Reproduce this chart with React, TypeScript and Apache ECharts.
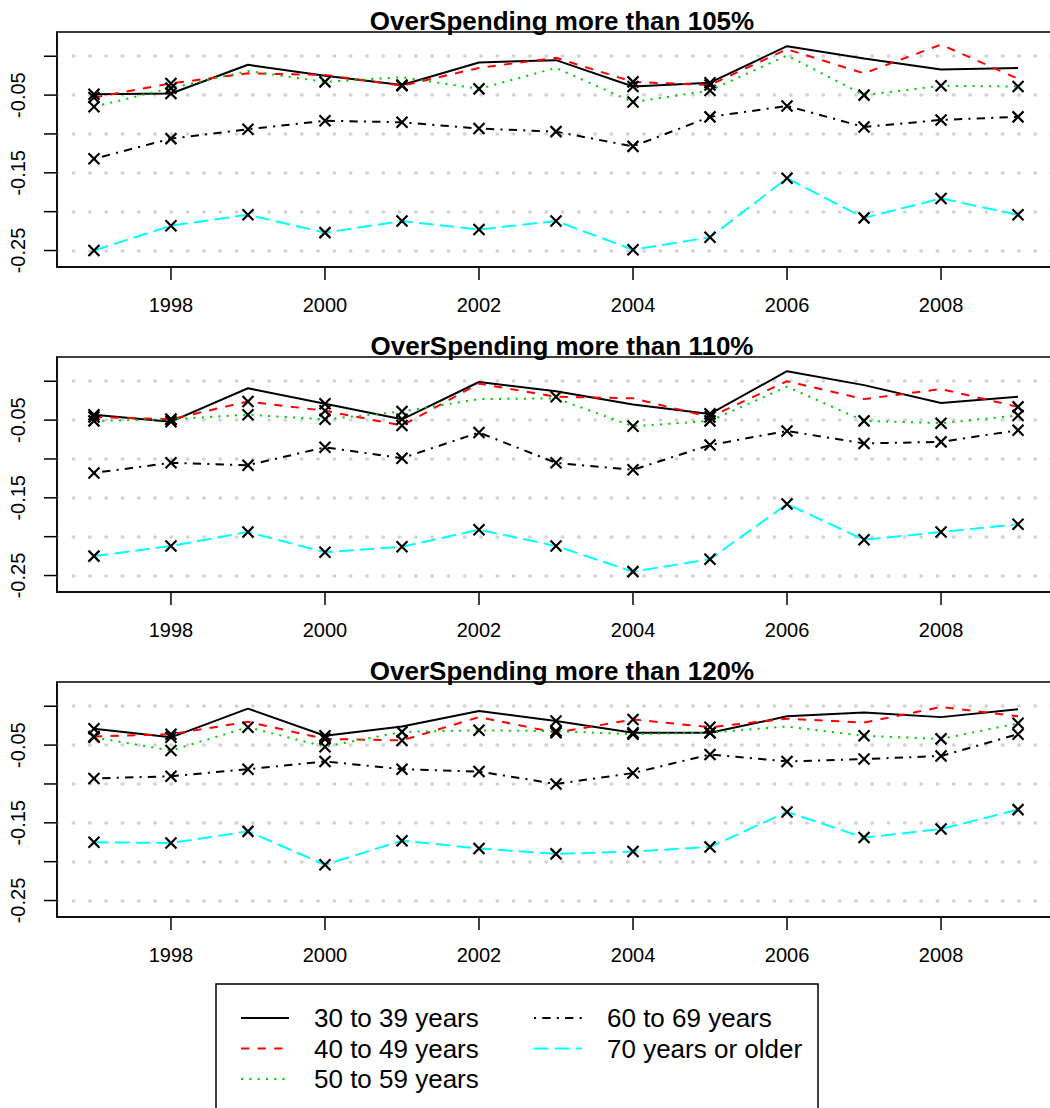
import React, { useEffect, useRef } from "react";
import * as echarts from "echarts";

// ---------- categories / labels ----------
const years = [1997, 1998, 1999, 2000, 2001, 2002, 2003, 2004, 2005, 2006, 2007, 2008, 2009];
const groupNames = ["30 to 39 years", "40 to 49 years", "50 to 59 years", "60 to 69 years", "70 years or older"];
const panelTitles = ["OverSpending more than 105%", "OverSpending more than 110%", "OverSpending more than 120%"];
const xTickYears = [1998, 2000, 2002, 2004, 2006, 2008];
const yTickValues = [0, -0.05, -0.1, -0.15, -0.2, -0.25];
const yLabelValues = [-0.05, -0.15, -0.25];

// ---------- OverSpending > 105% ----------
const over105_30 = [-0.049, -0.048, -0.011, -0.025, -0.037, -0.008, -0.005, -0.039, -0.034, 0.013, -0.003, -0.017, -0.015];
const over105_40 = [-0.053, -0.035, -0.022, -0.024, -0.038, -0.015, -0.002, -0.033, -0.037, 0.009, -0.022, 0.015, -0.029];
const over105_50 = [-0.065, -0.041, -0.019, -0.033, -0.027, -0.042, -0.015, -0.059, -0.044, 0.001, -0.050, -0.038, -0.039];
const over105_60 = [-0.132, -0.106, -0.094, -0.083, -0.085, -0.093, -0.097, -0.116, -0.078, -0.064, -0.091, -0.082, -0.078];
const over105_70 = [-0.250, -0.218, -0.204, -0.227, -0.212, -0.223, -0.212, -0.249, -0.233, -0.157, -0.208, -0.183, -0.204];
// cross markers (1 = marked)
const mark105_30 = [1, 1, 0, 0, 1, 0, 0, 1, 1, 0, 0, 0, 0];
const mark105_40 = [1, 1, 0, 0, 1, 0, 0, 1, 1, 0, 0, 0, 0];
const mark105_50 = [1, 1, 0, 1, 0, 1, 0, 1, 1, 0, 1, 1, 1];
const mark105_60 = [1, 1, 1, 1, 1, 1, 1, 1, 1, 1, 1, 1, 1];
const mark105_70 = [1, 1, 1, 1, 1, 1, 1, 1, 1, 1, 1, 1, 1];

// ---------- OverSpending > 110% ----------
const over110_30 = [-0.043, -0.052, -0.009, -0.029, -0.049, -0.001, -0.013, -0.030, -0.042, 0.013, -0.005, -0.028, -0.020];
const over110_40 = [-0.046, -0.049, -0.026, -0.038, -0.057, -0.003, -0.020, -0.022, -0.046, 0.000, -0.023, -0.010, -0.033];
const over110_50 = [-0.051, -0.049, -0.043, -0.049, -0.039, -0.023, -0.022, -0.058, -0.051, -0.007, -0.051, -0.054, -0.044];
const over110_60 = [-0.118, -0.105, -0.108, -0.085, -0.099, -0.066, -0.105, -0.114, -0.082, -0.064, -0.080, -0.078, -0.063];
const over110_70 = [-0.225, -0.212, -0.194, -0.220, -0.213, -0.191, -0.212, -0.245, -0.229, -0.158, -0.204, -0.194, -0.184];
const mark110_30 = [1, 1, 0, 1, 1, 0, 0, 0, 1, 0, 0, 0, 0];
const mark110_40 = [1, 1, 1, 1, 1, 0, 1, 0, 1, 0, 0, 0, 1];
const mark110_50 = [1, 1, 1, 1, 1, 0, 0, 1, 1, 0, 1, 1, 1];
const mark110_60 = [1, 1, 1, 1, 1, 1, 1, 1, 1, 1, 1, 1, 1];
const mark110_70 = [1, 1, 1, 1, 1, 1, 1, 1, 1, 1, 1, 1, 1];

// ---------- OverSpending > 120% ----------
const over120_30 = [-0.029, -0.040, -0.003, -0.038, -0.026, -0.006, -0.019, -0.034, -0.034, -0.013, -0.008, -0.014, -0.004];
const over120_40 = [-0.039, -0.036, -0.020, -0.042, -0.044, -0.014, -0.034, -0.017, -0.027, -0.016, -0.021, -0.001, -0.013];
const over120_50 = [-0.040, -0.057, -0.027, -0.052, -0.033, -0.031, -0.032, -0.036, -0.034, -0.026, -0.038, -0.042, -0.022];
const over120_60 = [-0.093, -0.090, -0.081, -0.071, -0.081, -0.084, -0.100, -0.086, -0.062, -0.071, -0.068, -0.064, -0.036];
const over120_70 = [-0.175, -0.176, -0.161, -0.204, -0.173, -0.183, -0.190, -0.187, -0.181, -0.136, -0.169, -0.158, -0.133];
const mark120_30 = [1, 1, 0, 1, 0, 0, 1, 1, 1, 0, 0, 0, 0];
const mark120_40 = [1, 1, 0, 1, 1, 0, 1, 1, 1, 0, 0, 0, 0];
const mark120_50 = [1, 1, 1, 1, 1, 1, 1, 1, 1, 0, 1, 1, 1];
const mark120_60 = [1, 1, 1, 1, 1, 1, 1, 1, 1, 1, 1, 1, 1];
const mark120_70 = [1, 1, 1, 1, 1, 1, 1, 1, 1, 1, 1, 1, 1];

const panelValues = [
  [over105_30, over105_40, over105_50, over105_60, over105_70],
  [over110_30, over110_40, over110_50, over110_60, over110_70],
  [over120_30, over120_40, over120_50, over120_60, over120_70],
];
const panelMarks = [
  [mark105_30, mark105_40, mark105_50, mark105_60, mark105_70],
  [mark110_30, mark110_40, mark110_50, mark110_60, mark110_70],
  [mark120_30, mark120_40, mark120_50, mark120_60, mark120_70],
];

// ---------- axis ranges (R style 4% padding) ----------
const X_MIN = 1996.52;
const X_MAX = 2009.48;
const Y_MIN = -0.2712;
const Y_MAX = 0.0312;

// ---------- layout / styles ----------
const FONT = "'Liberation Sans', Arial, Helvetica, sans-serif";
const groupColors = ["#000000", "#FF0000", "#00CD00", "#000000", "#00FFFF"];
const groupDash: any[] = ["solid", [8.3, 8.3], [2.1, 6.2], [2.1, 6.2, 8.3, 6.2], [14.6, 6.2]];
const GRID_LEFT = 57;
const GRID_W = 998;
const GRID_H = 235;
const gridTops = [32, 357, 682];
const titleYs = [21, 346, 671];
const CROSS = "path://M0,0L10,10M0,10L10,0";
const TICK_LEN = 13;

// linear mapping identical to the grid's value axes (used for tick marks only)
function xPix(v: number) {
  return GRID_LEFT + ((v - X_MIN) / (X_MAX - X_MIN)) * GRID_W;
}
function yPix(p: number, v: number) {
  return gridTops[p] + ((Y_MAX - v) / (Y_MAX - Y_MIN)) * GRID_H;
}

function buildGraphics() {
  const els: any[] = [
    {
      type: "rect",
      silent: true,
      shape: { x: 216, y: 984, width: 602, height: 130 },
      style: { fill: "none", stroke: "#000", lineWidth: 1.5 },
    },
  ];
  for (let p = 0; p < 3; p++) {
    const yb = gridTops[p] + GRID_H;
    for (const v of xTickYears) {
      const x = xPix(v);
      els.push({
        type: "line",
        silent: true,
        z: 100,
        shape: { x1: x, y1: yb, x2: x, y2: yb + TICK_LEN },
        style: { stroke: "#000", lineWidth: 1.5 },
      });
    }
    for (const v of yTickValues) {
      const y = yPix(p, v);
      els.push({
        type: "line",
        silent: true,
        z: 100,
        shape: { x1: GRID_LEFT - TICK_LEN, y1: y, x2: GRID_LEFT, y2: y },
        style: { stroke: "#000", lineWidth: 1.5 },
      });
    }
  }
  return els;
}

function buildOption() {
  const grids: any[] = [];
  const xAxes: any[] = [];
  const yAxes: any[] = [];
  const titles: any[] = [];
  const series: any[] = [];

  for (let p = 0; p < 3; p++) {
    grids.push({
      left: GRID_LEFT,
      top: gridTops[p],
      width: GRID_W,
      height: GRID_H,
      show: true,
      borderColor: "#000",
      borderWidth: 1.5,
      backgroundColor: "transparent",
      containLabel: false,
      outerBoundsMode: "none",
    });
    xAxes.push({
      type: "value",
      gridIndex: p,
      position: "bottom",
      min: X_MIN,
      max: X_MAX,
      axisLine: { show: true, onZero: false, lineStyle: { color: "#000", width: 1.5 } },
      axisTick: { show: false },
      axisLabel: {
        customValues: xTickYears,
        formatter: (v: number) => String(Math.round(v)),
        fontSize: 20,
        color: "#000",
        fontFamily: FONT,
        margin: 28,
      },
      splitLine: { show: false },
    });
    yAxes.push({
      type: "value",
      gridIndex: p,
      position: "left",
      min: Y_MIN,
      max: Y_MAX,
      axisLine: { show: true, onZero: false, lineStyle: { color: "#000", width: 1.5 } },
      axisTick: { show: false, customValues: yTickValues },
      axisLabel: {
        customValues: yLabelValues,
        formatter: (v: number) => v.toFixed(2),
        rotate: 90,
        fontSize: 20,
        color: "#000",
        fontFamily: FONT,
        margin: 29,
      },
      splitLine: {
        show: true,
        lineStyle: { color: "#D3D3D3", width: 3.5, type: [0.5, 15.8], cap: "round" },
      },
    });
    titles.push({
      text: panelTitles[p],
      left: 562,
      top: titleYs[p],
      textAlign: "center",
      textVerticalAlign: "middle",
      padding: 0,
      textStyle: { fontSize: 26, fontWeight: "bold", color: "#000", fontFamily: FONT },
    });

    for (let g = 0; g < 5; g++) {
      const vals = panelValues[p][g];
      series.push({
        name: groupNames[g],
        type: "line",
        xAxisIndex: p,
        yAxisIndex: p,
        data: years.map((y, i) => [y, vals[i]]),
        symbol: "none",
        z: 2,
        itemStyle: { color: groupColors[g] },
        lineStyle: { color: groupColors[g], width: 2, type: groupDash[g] },
      });
    }
    for (let g = 0; g < 5; g++) {
      const vals = panelValues[p][g];
      const marks = panelMarks[p][g];
      series.push({
        name: groupNames[g] + " (marked)",
        type: "scatter",
        xAxisIndex: p,
        yAxisIndex: p,
        data: years.map((y, i) => [y, vals[i]]).filter((_, i) => marks[i] === 1),
        symbol: CROSS,
        symbolSize: 11,
        z: 3,
        itemStyle: { color: "transparent", borderColor: "#000", borderWidth: 2.2, opacity: 1 },
      });
    }
  }

  const legendCommon = {
    orient: "vertical",
    top: 1005,
    itemWidth: 48,
    itemHeight: 14,
    itemGap: 4.5,
    padding: 0,
    selectedMode: false,
    itemStyle: { color: "transparent", borderColor: "transparent", borderWidth: 0, opacity: 0 },
    textStyle: { fontSize: 26, lineHeight: 26, color: "#000", fontFamily: FONT, padding: [0, 0, 0, 20] },
  };

  return {
    animation: false,
    backgroundColor: "#ffffff",
    title: titles,
    grid: grids,
    xAxis: xAxes,
    yAxis: yAxes,
    legend: [
      { ...legendCommon, left: 240, data: groupNames.slice(0, 3) },
      { ...legendCommon, left: 533, data: groupNames.slice(3) },
    ],
    graphic: { elements: buildGraphics() },
    series,
  };
}

export default function App() {
  const ref = useRef<HTMLDivElement>(null);
  useEffect(() => {
    document.body.style.margin = "0";
    const chart = echarts.init(ref.current as HTMLDivElement, null, { renderer: "svg" });
    chart.setOption(buildOption() as any);
    return () => chart.dispose();
  }, []);
  return <div ref={ref} style={{ width: 1050, height: 1108 }} />;
}
